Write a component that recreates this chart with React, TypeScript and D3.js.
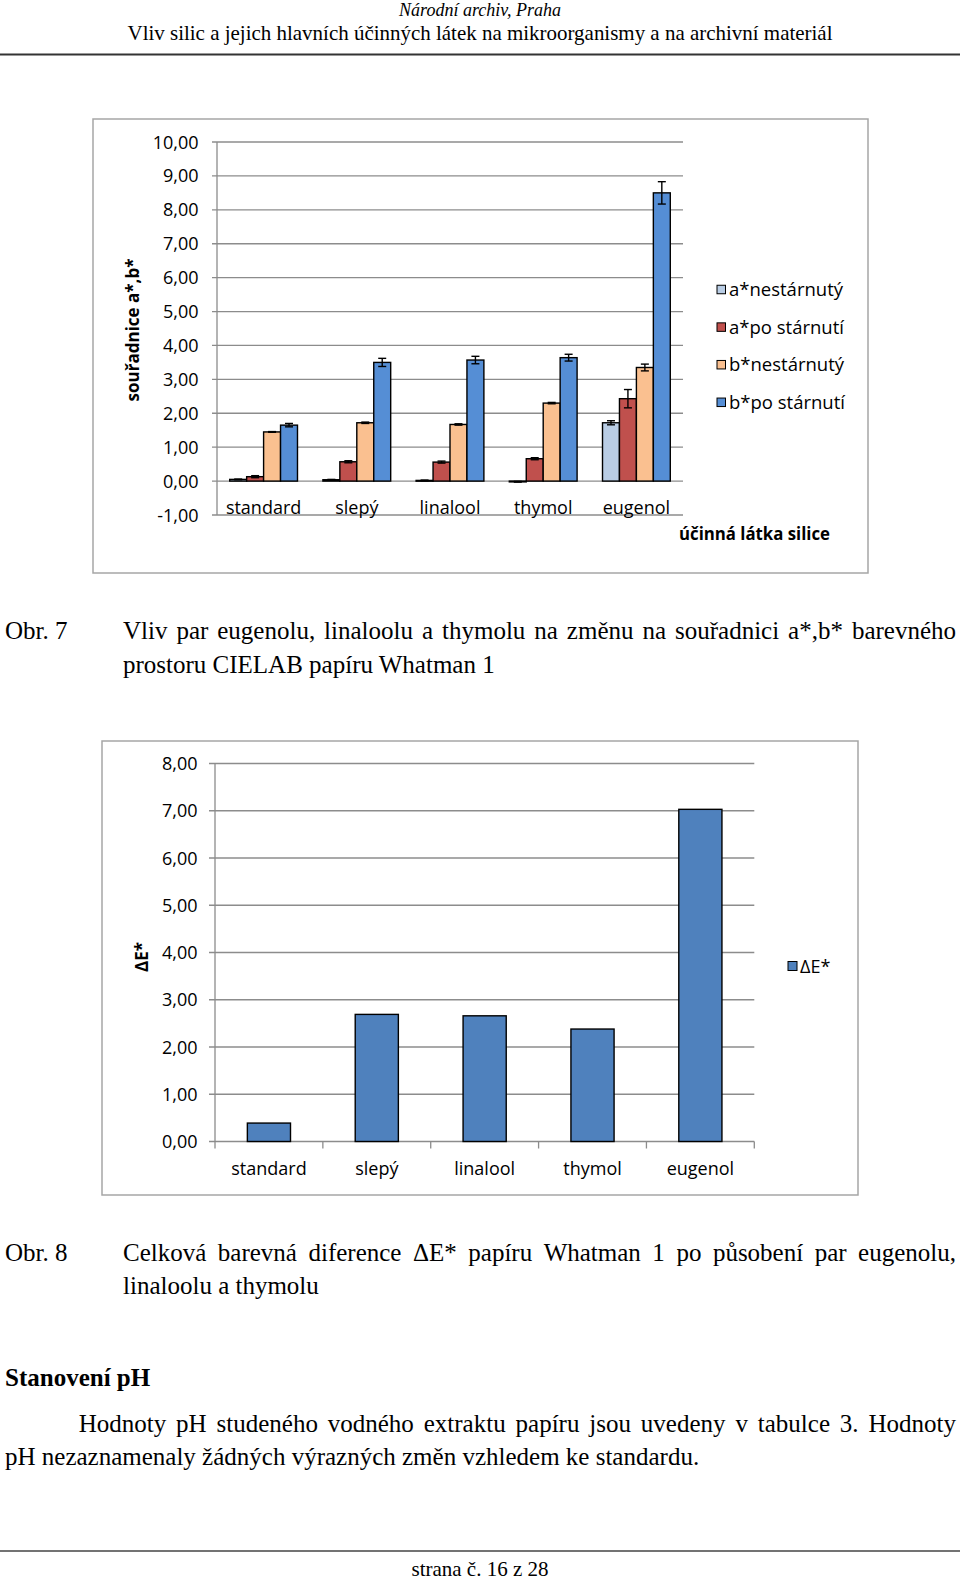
import React from "react";
import * as d3 from "d3";

// ---------- data ----------
const categories = ["standard", "slepý", "linalool", "thymol", "eugenol"];
const seriesNames = ["a*nestárnutý", "a*po stárnutí", "b*nestárnutý", "b*po stárnutí"];
const seriesColors = ["#b9cde5", "#c0504d", "#fac090", "#558ed5"];

const aUnaged = [0.05, 0.04, 0.02, -0.02, 1.72];
const aUnagedErr = [0.01, 0.01, 0.01, 0.01, 0.06];
const aAged = [0.13, 0.57, 0.56, 0.66, 2.43];
const aAgedErr = [0.03, 0.03, 0.03, 0.03, 0.27];
const bUnaged = [1.45, 1.72, 1.67, 2.3, 3.35];
const bUnagedErr = [0.01, 0.02, 0.02, 0.02, 0.1];
const bAged = [1.65, 3.5, 3.57, 3.64, 8.5];
const bAgedErr = [0.05, 0.12, 0.11, 0.1, 0.33];

const seriesValues = [aUnaged, aAged, bUnaged, bAged];
const seriesErrors = [aUnagedErr, aAgedErr, bUnagedErr, bAgedErr];

const deltaE = [0.39, 2.69, 2.66, 2.38, 7.03];

const ticks1 = [-1, 0, 1, 2, 3, 4, 5, 6, 7, 8, 9, 10];
const ticks2 = [0, 1, 2, 3, 4, 5, 6, 7, 8];

const caption7 = [
  "Vliv par eugenolu, linaloolu a thymolu na změnu na souřadnici a*,b* barevného",
  "prostoru CIELAB papíru Whatman 1",
];
const caption8 = [
  "Celková barevná diference ΔE* papíru Whatman 1 po působení par eugenolu,",
  "linaloolu a thymolu",
];
const bodyLines = [
  "Hodnoty pH studeného vodného extraktu papíru jsou uvedeny v tabulce 3. Hodnoty",
  "pH nezaznamenaly žádných výrazných změn vzhledem ke standardu.",
];

// ---------- helpers ----------
const SERIF = "'Liberation Serif', 'Times New Roman', serif";
const SANS = "'Open Sans', 'Noto Sans', sans-serif";
const fmt = (v: number) => d3.format(".2f")(v).replace(".", ",").replace("\u2212", "-");

let ctx: CanvasRenderingContext2D | null = null;
function textWidth(t: string, font: string) {
  if (!ctx) ctx = document.createElement("canvas").getContext("2d");
  ctx!.font = font;
  return ctx!.measureText(t).width;
}

function Justified({ text, x1, x2, y, size }: { text: string; x1: number; x2: number; y: number; size: number }) {
  const font = `${size}px ${SERIF}`;
  const words = text.split(" ");
  const ws = words.map((w) => textWidth(w, font));
  const total = ws.reduce((a, b) => a + b, 0);
  const gap = (x2 - x1 - total) / (words.length - 1);
  let x = x1;
  return (
    <g fontFamily={SERIF} fontSize={size} fill="#000">
      {words.map((w, i) => {
        const el = (
          <text key={i} x={x} y={y}>
            {w}
          </text>
        );
        x += ws[i] + gap;
        return el;
      })}
    </g>
  );
}

function Chart1() {
  const left = 217, right = 683;
  const y = d3.scaleLinear().domain([-1, 10]).range([515, 142]);
  const x0 = d3.scaleBand<string>().domain(categories).range([left, right]).paddingInner(0).paddingOuter(0);
  const x1 = d3.scaleBand<string>().domain(seriesNames).range([0, x0.bandwidth()]).paddingInner(0).paddingOuter(0.75);
  const bw = x1.bandwidth();
  return (
    <g>
      <rect x={93} y={119} width={775} height={454} fill="#fff" stroke="#a6a6a6" strokeWidth={1.5} />
      {ticks1.map((t) => (
        <g key={t}>
          <line x1={left - 5} x2={right} y1={y(t)} y2={y(t)} stroke="#8c8c8c" strokeWidth={1.3} />
          <text x={198.5} y={y(t) + 6.5} textAnchor="end" fontFamily={SANS} fontSize={18} fill="#000">
            {fmt(t)}
          </text>
        </g>
      ))}
      {seriesNames.map((s, si) =>
        categories.map((c, ci) => {
          const v = seriesValues[si][ci];
          const bx = (x0(c) as number) + (x1(s) as number);
          const top = y(Math.max(v, 0));
          const h = Math.abs(y(v) - y(0));
          return (
            <rect key={s + c} x={bx} y={top} width={bw} height={Math.max(h, 0.8)} fill={seriesColors[si]} stroke="#000" strokeWidth={1.4} />
          );
        })
      )}
      {seriesNames.map((s, si) =>
        categories.map((c, ci) => {
          const v = seriesValues[si][ci];
          const e = seriesErrors[si][ci];
          const cx = (x0(c) as number) + (x1(s) as number) + bw / 2;
          const ya = y(v + e), yb = y(v - e);
          return (
            <g key={"e" + s + c} stroke="#000" strokeWidth={1.4}>
              <line x1={cx} x2={cx} y1={ya} y2={yb} />
              <line x1={cx - 4} x2={cx + 4} y1={ya} y2={ya} />
              <line x1={cx - 4} x2={cx + 4} y1={yb} y2={yb} />
            </g>
          );
        })
      )}
      <line x1={left} x2={left} y1={y(10)} y2={y(-1)} stroke="#8c8c8c" strokeWidth={1.3} />
      {categories.map((c) => (
        <text key={c} x={(x0(c) as number) + x0.bandwidth() / 2} y={513.5} textAnchor="middle" fontFamily={SANS} fontSize={18} fill="#000">
          {c}
        </text>
      ))}
      <text transform={`translate(138.5,330) rotate(-90)`} textAnchor="middle" fontFamily={SANS} fontWeight="bold" fontSize={17} fill="#000">
        souřadnice a*,b*
      </text>
      <text x={679} y={539.5} fontFamily={SANS} fontWeight="bold" fontSize={18} fill="#000" textLength={151} lengthAdjust="spacingAndGlyphs">
        účinná látka silice
      </text>
      {seriesNames.map((s, i) => {
        const cy = 289.5 + i * 37.6;
        return (
          <g key={s}>
            <rect x={717} y={cy - 4.25} width={8.5} height={8.5} fill={seriesColors[i]} stroke="#000" strokeWidth={1} />
            <text x={729} y={cy + 6.5} fontFamily={SANS} fontSize={18.5} fill="#000">
              {s}
            </text>
          </g>
        );
      })}
    </g>
  );
}

function Chart2() {
  const left = 215, right = 754.3;
  const y = d3.scaleLinear().domain([0, 8]).range([1141.5, 763.5]);
  const xb = d3.scaleBand<string>().domain(categories).range([left, right]).paddingInner(0.6).paddingOuter(0.3);
  const step = (right - left) / categories.length;
  return (
    <g>
      <rect x={102} y={741} width={756} height={454} fill="#fff" stroke="#a6a6a6" strokeWidth={1.5} />
      {ticks2.map((t) => (
        <g key={t}>
          <line x1={left - 6} x2={right} y1={y(t)} y2={y(t)} stroke="#8c8c8c" strokeWidth={1.3} />
          <text x={197.6} y={y(t) + 6.5} textAnchor="end" fontFamily={SANS} fontSize={18} fill="#000">
            {fmt(t)}
          </text>
        </g>
      ))}
      {categories.map((c, i) => (
        <rect key={c} x={xb(c)} y={y(deltaE[i])} width={xb.bandwidth()} height={y(0) - y(deltaE[i])} fill="#4f81bd" stroke="#000" strokeWidth={1.4} />
      ))}
      <line x1={left} x2={left} y1={y(8)} y2={y(0)} stroke="#8c8c8c" strokeWidth={1.3} />
      {d3.range(categories.length + 1).map((i) => (
        <line key={i} x1={left + i * step} x2={left + i * step} y1={y(0)} y2={y(0) + 7} stroke="#8c8c8c" strokeWidth={1.3} />
      ))}
      {categories.map((c) => (
        <text key={c} x={(xb(c) as number) + xb.bandwidth() / 2} y={1175} textAnchor="middle" fontFamily={SANS} fontSize={18} fill="#000">
          {c}
        </text>
      ))}
      <text transform={`translate(148,957) rotate(-90)`} textAnchor="middle" fontFamily={SANS} fontWeight="bold" fontSize={17} fill="#000">
        ΔE*
      </text>
      <rect x={788} y={961.5} width={9} height={9} fill="#4f81bd" stroke="#000" strokeWidth={1} />
      <text x={800} y={972.5} fontFamily={SANS} fontSize={18} fill="#000">
        ΔE*
      </text>
    </g>
  );
}

export default function App() {
  return (
    <svg width={960} height={1581} style={{ position: "absolute", left: 0, top: 0, background: "#fff" }}>
      <rect x={0} y={0} width={960} height={1581} fill="#fff" />
      {/* header */}
      <text x={480} y={16} textAnchor="middle" fontFamily={SERIF} fontStyle="italic" fontSize={18} fill="#000">
        Národní archiv, Praha
      </text>
      <text x={480} y={40} textAnchor="middle" fontFamily={SERIF} fontSize={21} fill="#000" textLength={705} lengthAdjust="spacingAndGlyphs">
        Vliv silic a jejich hlavních účinných látek na mikroorganismy a na archivní materiál
      </text>
      <line x1={0} x2={960} y1={54.5} y2={54.5} stroke="#333" strokeWidth={2} />

      <Chart1 />

      <text x={5} y={639} fontFamily={SERIF} fontSize={25} fill="#000">Obr. 7</text>
      <Justified text={caption7[0]} x1={123} x2={956} y={639} size={25} />
      <text x={123} y={672.5} fontFamily={SERIF} fontSize={25} fill="#000">{caption7[1]}</text>

      <Chart2 />

      <text x={5} y={1260.5} fontFamily={SERIF} fontSize={25} fill="#000">Obr. 8</text>
      <Justified text={caption8[0]} x1={123} x2={956} y={1260.5} size={25} />
      <text x={123} y={1294} fontFamily={SERIF} fontSize={25} fill="#000">{caption8[1]}</text>

      <text x={5} y={1386} fontFamily={SERIF} fontWeight="bold" fontSize={25} fill="#000">Stanovení pH</text>
      <Justified text={bodyLines[0]} x1={78.7} x2={956} y={1432} size={25} />
      <text x={5} y={1465} fontFamily={SERIF} fontSize={25} fill="#000">{bodyLines[1]}</text>

      {/* footer */}
      <line x1={0} x2={960} y1={1551} y2={1551} stroke="#444" strokeWidth={1.5} />
      <text x={480} y={1576} textAnchor="middle" fontFamily={SERIF} fontSize={21} fill="#000">
        strana č. 16 z 28
      </text>
    </svg>
  );
}
